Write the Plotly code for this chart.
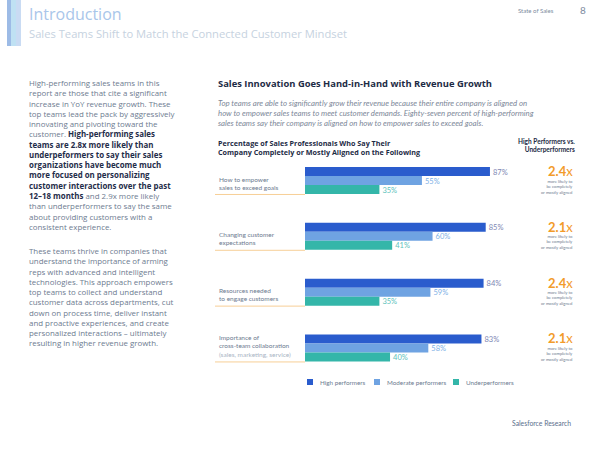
import plotly.graph_objects as go

categories = ["How to empower<br>sales to exceed goals",
              "Changing customer<br>expectations",
              "Resources needed<br>to engage customers",
              "Importance of<br>cross-team collaboration<br><span style='color:#a9b4c4'>(sales, marketing, service)</span>"]
cat_keys = ["empower", "changing", "resources", "importance"]
series_names = ["High performers", "Moderate performers", "Underperformers"]
high = [87, 85, 84, 83]
moderate = [55, 60, 59, 58]
under = [35, 41, 35, 40]
ratios = ["2.4", "2.1", "2.4", "2.1"]

bar_colors = ["#2a5ccd", "#6fa3e2", "#34b6a9"]
label_colors = ["#7d86b3", "#7db0e6", "#5cc2bb"]

W, H = 600, 450
def px(x): return x / W
def py(y): return 1 - y / H

fig = go.Figure()
for name, vals, c, lc in zip(series_names, [high, moderate, under], bar_colors, label_colors):
    fig.add_trace(go.Bar(
        y=cat_keys, x=vals, orientation="h", name=name,
        marker=dict(color=c, line=dict(width=0)),
        texttemplate="%{x}%", textposition="outside",
        textfont=dict(color=lc, size=10, family="Lato"),
        cliponaxis=False, showlegend=False, hoverinfo="skip"))

ann = []
FONT = "Lato"
OS = "Open Sans"
# header
ann.append(dict(x=px(27), y=py(14), text="Introduction", xanchor="left", yanchor="middle",
                font=dict(size=16, color="#a9c6ea", family=OS)))
ann.append(dict(x=px(27), y=py(33), text="Sales Teams Shift to Match the Connected Customer Mindset",
                xanchor="left", yanchor="middle", font=dict(size=11.2, color="#c6d2e0", family=OS)))
ann.append(dict(x=px(556), y=py(10), text="State of Sales", xanchor="right", yanchor="middle",
                font=dict(size=6, color="#7d8ba0", family=FONT)))
ann.append(dict(x=px(583), y=py(10), text="8", xanchor="center", yanchor="middle",
                font=dict(size=10, color="#7d8ba0", family=FONT)))

B = "<b style='color:#1f2d4a'>"
body1 = ("High-performing sales teams in this<br>report are those that cite a significant<br>"
         "increase in YoY revenue growth. These<br>top teams lead the pack by aggressively<br>"
         f"innovating and pivoting toward the<br>customer. {B}High-performing sales</b><br>"
         f"{B}teams are 2.8x more likely than</b><br>{B}underpeformers to say their sales</b><br>"
         f"{B}organizations have become much</b><br>{B}more focused on personalizing</b><br>"
         f"{B}customer interactions over the past</b><br>{B}12–18 months</b> and 2.9x more likely<br>"
         "than underperformers to say the same<br>about providing customers with a<br>consistent experience.")
ann.append(dict(x=px(27), y=py(75.5), text=body1, xanchor="left", yanchor="top", align="left",
                font=dict(size=7.9, color="#6d7b90", family=OS)))
body2 = ("These teams thrive in companies that<br>understand the importance of arming<br>"
         "reps with advanced and intelligent<br>technologies. This approach empowers<br>"
         "top teams to collect and understand<br>customer data across departments, cut<br>"
         "down on process time, deliver instant<br>and proactive experiences, and create<br>"
         "personalized interactions – ultimately<br>resulting in higher revenue growth.")
ann.append(dict(x=px(27), y=py(243.5), text=body2, xanchor="left", yanchor="top", align="left",
                font=dict(size=7.9, color="#6d7b90", family=OS)))

# chart texts
ann.append(dict(x=px(216), y=py(84), text="<b>Sales Innovation Goes Hand-in-Hand with Revenue Growth</b>",
                xanchor="left", yanchor="middle", font=dict(size=9.4, color="#1d2b45", family=OS)))
ann.append(dict(x=px(216), y=py(96), text=("<i>Top teams are able to significantly grow their revenue because their entire company is aligned on<br>"
                "how to empower sales teams to meet customer demands. Eighty-seven percent of high-performing<br>"
                "sales teams say their company is aligned on how to empower sales to exceed goals.</i>"),
                xanchor="left", yanchor="top", align="left", font=dict(size=7.8, color="#7c8798", family=FONT)))
ann.append(dict(x=px(216), y=py(135.5), text=("<b>Percentage of Sales Professionals Who Say Their<br>"
                "Company Completely or Mostly Aligned on the Following</b>"),
                xanchor="left", yanchor="top", align="left", font=dict(size=7.2, color="#1d2b45", family=OS)))
ann.append(dict(x=px(577), y=py(135.5), text="<b>High Performers vs.<br>Underperformers</b>",
                xanchor="right", yanchor="top", align="right", font=dict(size=6.5, color="#1d2b45", family=FONT)))

shapes = []
for i, (key, cat, r) in enumerate(zip(cat_keys, categories, ratios)):
    ann.append(dict(x=px(217), xref="paper", y=key, yref="y", text=cat, xanchor="left", yanchor="bottom",
                    align="left", yshift=-12, font=dict(size=6.5, color="#6d7b90", family=FONT)))
    ann.append(dict(x=px(575), xref="paper", y=key, yref="y",
                    text=f"<b>{r}</b><span style='font-weight:normal'>x</span>",
                    xanchor="right", yanchor="middle", yshift=9.5,
                    font=dict(size=13, color="#f29b2a", family=FONT)))
    ann.append(dict(x=px(575), xref="paper", y=key, yref="y",
                    text="more likely to<br>be completely<br>or mostly aligned",
                    xanchor="right", yanchor="middle", align="right", yshift=-6,
                    font=dict(size=4.2, color="#6d7b90", family=FONT)))
    shapes.append(dict(type="line", xref="paper", yref="y", x0=px(215), x1=px(305),
                       y0=i + 0.25, y1=i + 0.25, line=dict(color="#f7cf97", width=1)))

# custom legend
leg_x = [307, 374, 453]
for lx, name, c in zip(leg_x, series_names, bar_colors):
    shapes.append(dict(type="rect", xref="paper", yref="paper", x0=px(lx), x1=px(lx + 6),
                       y0=py(385), y1=py(379), fillcolor=c, line=dict(width=0)))
    ann.append(dict(x=px(lx + 11), y=py(382), text=name, xanchor="left", yanchor="middle",
                    font=dict(size=6.3, color="#6d7b90", family=FONT)))

ann.append(dict(x=px(573), y=py(423), text="Salesforce Research", xanchor="right", yanchor="middle",
                font=dict(size=6.8, color="#5a6e8c", family=FONT)))

# header block
for x0, x1, col in [(7, 11, "#9dbbe6"), (11, 16, "#bfe1f3"), (16, 21, "#c9dbf3")]:
    shapes.append(dict(type="rect", xref="paper", yref="paper", x0=px(x0), x1=px(x1),
                       y0=py(46), y1=py(0), fillcolor=col, line=dict(width=0), layer="below"))

for a in ann:
    a.setdefault("xref", "paper")
    a.setdefault("yref", "paper")
    a["showarrow"] = False

fig.update_layout(
    width=W, height=H, margin=dict(l=0, r=0, t=0, b=0),
    paper_bgcolor="white", plot_bgcolor="white",
    barmode="group", bargap=0.516, bargroupgap=0,
    xaxis=dict(domain=[px(305), px(517.6)], range=[0, 100], visible=False, fixedrange=True),
    yaxis=dict(domain=[py(375.9), py(152.6)], range=[3.5, -0.5], visible=False,
               categoryorder="array", categoryarray=cat_keys, fixedrange=True),
    annotations=ann, shapes=shapes, showlegend=False,
)
fig.write_html("out.html", config={"displayModeBar": False},
               post_script="document.body.style.margin='0px';")
